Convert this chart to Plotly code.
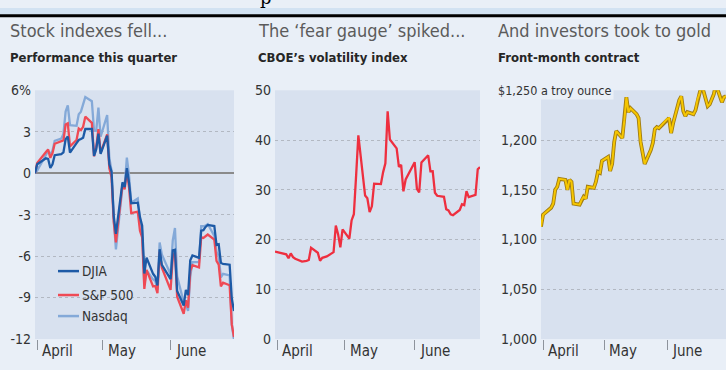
import pandas as pd
import plotly.graph_objects as go

W, H = 726, 370

# Trading days, Q2 2010 (plus Mar 31 base)
dates = [d.strftime("%Y-%m-%d") for d in pd.bdate_range("2010-03-31", "2010-06-30")
         if d.strftime("%Y-%m-%d") not in ("2010-04-02", "2010-05-31")]

djia = [0, 0.65, 1.08, 1.04, 0.38, 0.65, 1.30, 1.38, 1.50, 2.45, 2.65, 1.49, 2.17, 2.40, 2.47, 2.56, 3.20, 3.21, 1.25, 1.74, 2.86, 1.40,
        2.72, 0.65, 0.11, -3.10, -4.39, -0.66, -1.00, 0.37, -0.68, -2.18, -2.13, -3.18, -3.80, -7.26, -6.11, -7.28, -7.49, -8.13, -5.50, -6.63,
        -7.67, -5.59, -5.54, -8.52, -9.58, -8.44, -8.82, -6.30, -5.95, -6.13, -4.16, -4.12, -3.89, -3.74, -3.82, -5.19, -5.14, -6.48, -6.57, -6.62, -9.09, -9.97]
sp500 = [0, 0.74, 1.54, 1.71, 1.11, 1.45, 2.13, 2.31, 2.38, 3.52, 3.61, 1.94, 2.40, 3.23, 3.12, 3.36, 4.09, 3.64, 1.22, 1.88, 3.19, 1.48,
         2.81, 0.36, -0.30, -3.53, -5.01, -0.83, -1.17, 0.19, -1.03, -2.89, -2.78, -4.16, -4.65, -8.37, -6.99, -8.19, -8.16, -8.68, -5.68, -6.84,
         -8.44, -6.08, -5.70, -8.94, -10.17, -9.19, -9.73, -7.06, -6.66, -6.82, -4.63, -4.69, -4.57, -4.44, -4.81, -6.34, -6.62, -8.19, -7.92, -8.11, -10.96, -11.86]
nasdaq = [0, 0.19, 1.32, 1.62, 1.38, 1.62, 2.34, 2.50, 2.84, 4.46, 4.91, 3.47, 3.43, 4.27, 4.45, 5.05, 5.51, 5.21, 3.07, 3.08, 4.75, 2.64,
          4.20, 1.10, 0.18, -3.27, -5.52, -0.97, -0.94, 1.13, -0.15, -2.13, -1.83, -3.37, -4.15, -8.09, -7.04, -7.69, -7.80, -8.43, -5.02, -5.88,
          -7.32, -4.87, -3.96, -7.46, -9.34, -9.48, -9.97, -7.48, -6.44, -6.44, -3.84, -3.84, -3.79, -3.68, -4.54, -5.68, -5.99, -7.53, -7.28, -7.39, -10.96, -12.04]
vix = [17.59, 17.47, 17.02, 16.23, 17.22, 16.46, 16.14, 15.58, 15.59, 15.73, 15.89, 18.36, 17.34, 15.73, 16.32, 16.47, 16.62, 17.47, 22.81, 21.08, 18.44, 22.05,
       20.19, 23.84, 25.09, 32.80, 40.95, 28.84, 28.28, 25.52, 26.68, 31.24, 31.14, 33.55, 35.32, 45.79, 40.10, 38.32, 34.61, 35.02, 29.68, 32.07,
       35.54, 30.17, 29.46, 35.48, 36.93, 33.70, 33.73, 29.40, 28.79, 28.58, 26.09, 25.85, 25.05, 24.88, 25.94, 27.09, 26.91, 29.74, 28.53, 28.97, 34.13, 34.54]
gold = [1113, 1125, 1132, 1136, 1150, 1153, 1161, 1160, 1150, 1160, 1158, 1136, 1135, 1140, 1143, 1141, 1153, 1152, 1158, 1168, 1167, 1179,
        1183, 1169, 1176, 1198, 1209, 1202, 1220, 1243, 1228, 1232, 1226, 1222, 1198, 1188, 1176, 1190, 1197, 1211, 1213, 1212,
        1221, 1222, 1207, 1217, 1240, 1244, 1229, 1224, 1228, 1226, 1230, 1241, 1247, 1256, 1234, 1236, 1241, 1246, 1256, 1238, 1243, 1244]

month_starts = ["2010-04-01", "2010-05-01", "2010-06-01"]
month_labels = ["April", "May", "June"]

titles = ["Stock indexes fell...", "The \u2018fear gauge\u2019 spiked...", "And investors took to gold"]
subtitles = ["Performance this quarter", "CBOE\u2019s volatility index", "Front-month contract"]

stock_ticks = [-12, -9, -6, -3, 0, 3, 6]
stock_ticktext = ["-12", "-9", "-6", "-3", "0", "3", "6%"]
vix_ticks = [0, 10, 20, 30, 40, 50]
gold_ticks = [1000, 1050, 1100, 1150, 1200, 1250]
gold_ticktext = ["1,000", "1,050", "1,100", "1,150", "1,200", ""]

FONT = "DejaVu Sans Condensed, Liberation Sans Narrow, sans-serif"
PAPER = "#e9eff7"
PLOT = "#d8e1ef"
GRID = "#b2b8c2"
TXT = "#333333"

C_DJIA = "#1d5aa6"
C_SP = "#ef4a55"
C_NAS = "#84a9d8"
C_VIX = "#ee2f3f"

def px(x):
    return x / W

def py(y):
    return 1 - y / H

fig = go.Figure()
fig.add_trace(go.Scatter(x=dates, y=nasdaq, mode="lines", line=dict(color=C_NAS, width=2.3), xaxis="x", yaxis="y", showlegend=False))
fig.add_trace(go.Scatter(x=dates, y=sp500, mode="lines", line=dict(color=C_SP, width=2.3), xaxis="x", yaxis="y", showlegend=False))
fig.add_trace(go.Scatter(x=dates, y=djia, mode="lines", line=dict(color=C_DJIA, width=2.3), xaxis="x", yaxis="y", showlegend=False))
fig.add_trace(go.Scatter(x=dates, y=vix, mode="lines", line=dict(color=C_VIX, width=2.3), xaxis="x2", yaxis="y2", showlegend=False))
fig.add_trace(go.Scatter(x=dates, y=gold, mode="lines", line=dict(color="#a07c12", width=3.8), xaxis="x3", yaxis="y3",
                         showlegend=False, cliponaxis=False))
fig.add_trace(go.Scatter(x=dates, y=gold, mode="lines", line=dict(color="#f6c600", width=2.0), xaxis="x3", yaxis="y3",
                         showlegend=False, cliponaxis=False))

ydom = [py(346), py(86)]
xdoms = [[px(35), px(234)], [px(275), px(480)], [px(541), 1.0]]

def xax(dom):
    return dict(domain=dom, type="date", range=["2010-03-31", "2010-06-30"], tickvals=month_starts,
                showticklabels=False, ticks="outside", ticklen=10, tickwidth=1, tickcolor="#8d939c",
                showgrid=False, zeroline=False, showline=False, fixedrange=True)

def yax(anchor, rng, tv, tt, zl=False):
    return dict(domain=ydom, anchor=anchor, range=rng, tickvals=tv, ticktext=tt,
                showgrid=True, gridcolor=GRID, griddash="dot", gridwidth=1,
                zeroline=zl, zerolinecolor="#8a8a8a", zerolinewidth=1.6,
                showline=False, ticks="", ticklabelstandoff=3,
                tickfont=dict(family=FONT, size=14, color=TXT), fixedrange=True)

fig.update_layout(
    width=W, height=H, margin=dict(l=0, r=0, t=0, b=0),
    paper_bgcolor=PAPER, plot_bgcolor=PLOT,
    xaxis=dict(**xax(xdoms[0]), anchor="y"),
    xaxis2=dict(**xax(xdoms[1]), anchor="y2"),
    xaxis3=dict(**xax(xdoms[2]), anchor="y3"),
    yaxis=yax("x", [-12, 6], stock_ticks, stock_ticktext, zl=True),
    yaxis2=yax("x2", [0, 50], vix_ticks, [str(v) for v in vix_ticks]),
    yaxis3=yax("x3", [1000, 1250], gold_ticks, gold_ticktext),
    showlegend=False,
)

shapes = [
    dict(type="rect", xref="paper", yref="paper", x0=0, x1=1, y0=py(7), y1=1, fillcolor="#d2e2f2", line=dict(width=0), layer="below"),
    dict(type="line", xref="paper", yref="paper", x0=0, x1=1, y0=py(8), y1=py(8), line=dict(color="#000000", width=3)),
]
annotations = []

# descender of the cut-off headline above the panels
annotations.append(dict(text="p", xref="paper", yref="paper", x=px(266), y=py(-11), xanchor="center", yanchor="middle",
                        showarrow=False, font=dict(family="DejaVu Serif", size=18, color="#000")))

tx = [8, 256, 496]
for i in range(3):
    annotations.append(dict(text=titles[i], xref="paper", yref="paper", x=px(tx[i]), y=py(23), xanchor="left", yanchor="middle",
                            showarrow=False, font=dict(family=FONT, size=18, color="#5b5b5b")))
    annotations.append(dict(text="<b>" + subtitles[i] + "</b>", xref="paper", yref="paper", x=px(tx[i]), y=py(52),
                            xanchor="left", yanchor="middle", showarrow=False, font=dict(family=FONT, size=13, color="#262626")))
    xname = "x" if i == 0 else "x%d" % (i + 1)
    for d, lab in zip(month_starts, month_labels):
        annotations.append(dict(text=lab, xref=xname, yref="paper", x=d, y=py(359), xanchor="left", yanchor="middle",
                                xshift=3, showarrow=False, font=dict(family=FONT, size=15, color=TXT)))

# gold top label
annotations.append(dict(text="$1,250 a troy ounce", xref="paper", yref="y3", x=px(496), y=1250, xanchor="left", yanchor="middle",
                        showarrow=False, bgcolor=PAPER, borderpad=1, font=dict(family=FONT, size=12.5, color=TXT)))

# legend for first panel
leg = [("DJIA", C_DJIA, 275), ("S&P 500", C_SP, 300), ("Nasdaq", C_NAS, 322)]
for name, col, yy in leg:
    shapes.append(dict(type="line", xref="paper", yref="paper", x0=px(58), x1=px(79), y0=py(yy), y1=py(yy),
                       line=dict(color=col, width=2.5)))
    annotations.append(dict(text=name, xref="paper", yref="paper", x=px(80), y=py(yy), xanchor="left", yanchor="middle",
                            showarrow=False, font=dict(family=FONT, size=13.5, color=TXT)))

fig.update_layout(shapes=shapes, annotations=annotations)
fig.write_html("out.html")
